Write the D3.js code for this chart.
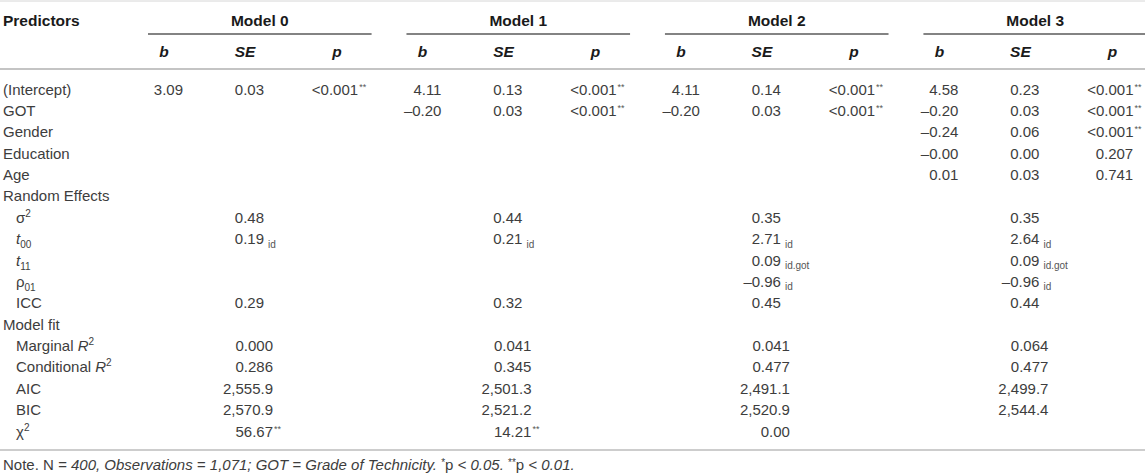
<!DOCTYPE html>
<html>
<head>
<meta charset="utf-8">
<script src="https://cdn.jsdelivr.net/npm/d3@7"></script>
<style>
  body { margin: 0; background: #fff; }
  svg { display: block; font-family: "Liberation Sans", Arial, Helvetica, sans-serif; }
  .cell { font-size: 15px; fill: #3d3d3d; }
  .head { font-size: 15.5px; font-weight: bold; fill: #1a1a1a; }
  .sub { font-size: 10px; fill: #555; }
  .star { font-size: 9px; fill: #555; }
</style>
</head>
<body>
<script>
// table content
var models = ['Model 0', 'Model 1', 'Model 2', 'Model 3'];
var subCols = ['b', 'SE', 'p'];
var predictors = ['(Intercept)', 'GOT', 'Gender', 'Education', 'Age'];

var coefB = [
	['3.09', '', '', '', ''],
	['4.11', '–0.20', '', '', ''],
	['4.11', '–0.20', '', '', ''],
	['4.58', '–0.20', '–0.24', '–0.00', '0.01']];
var coefSE = [
	['0.03', '', '', '', ''],
	['0.13', '0.03', '', '', ''],
	['0.14', '0.03', '', '', ''],
	['0.23', '0.03', '0.06', '0.00', '0.03']];
var coefP = [
	['<0.001**', '', '', '', ''],
	['<0.001**', '<0.001**', '', '', ''],
	['<0.001**', '<0.001**', '', '', ''],
	['<0.001**', '<0.001**', '<0.001**', '0.207', '0.741']];

// random effects
var sigma2 = ['0.48', '0.44', '0.35', '0.35'];
var tau00 = ['0.19', '0.21', '2.71', '2.64'];
var tau00Group = ['id', 'id', 'id', 'id'];
var tau11 = ['', '', '0.09', '0.09'];
var tau11Group = ['', '', 'id.got', 'id.got'];
var rho01 = ['', '', '–0.96', '–0.96'];
var rho01Group = ['', '', 'id', 'id'];
var icc = ['0.29', '0.32', '0.45', '0.44'];

// model fit
var marginalR2 = ['0.000', '0.041', '0.041', '0.064'];
var conditionalR2 = ['0.286', '0.345', '0.477', '0.477'];
var aic = ['2,555.9', '2,501.3', '2,491.1', '2,499.7'];
var bic = ['2,570.9', '2,521.2', '2,520.9', '2,544.4'];
var chi2 = ['56.67**', '14.21**', '0.00', ''];

var rowLabels = ['(Intercept)', 'GOT', 'Gender', 'Education', 'Age',
	'Random Effects', 'σ^{2}', '*t*_{00}', '*t*_{11}', 'ρ_{01}', 'ICC',
	'Model fit', 'Marginal *R*^{2}', 'Conditional *R*^{2}', 'AIC', 'BIC', 'χ^{2}'];
var sections = ['Random Effects', 'Model fit'];

var W = 1145, H = 476;

var svg = d3.select('body').append('svg')
	.attr('width', W)
	.attr('height', H);

var x = d3.scaleBand().domain(models).range([148, 1147]).paddingInner(0.135);
var bw = x.bandwidth();
var y = d3.scalePoint().domain(rowLabels).range([89, 431]);

// offsets inside one model block
var headX = d3.scaleOrdinal().domain(subCols).range([16, 97, 189]);
var valX = d3.scaleOrdinal().domain(subCols).range([35, 116, 191]);
var valAnchor = d3.scaleOrdinal().domain(subCols).range(['end', 'end', 'middle']);
var fitShift = 9;

// small markup: *x* italic, ^{..} superscript, _{..} subscript
function rich(text, markup, small) {
	var re = /\*([^*]+)\*|\^\{([^}]+)\}|_\{([^}]+)\}|([^*^_]+)/g;
	var m, shift = 0;
	while ((m = re.exec(markup))) {
		var t = text.append('tspan'), target = 0;
		if (m[1]) t.attr('font-style', 'italic').text(m[1]);
		else if (m[2]) { target = -6; t.attr('font-size', small).text(m[2]); }
		else if (m[3]) { target = 4; t.attr('font-size', small).text(m[3]); }
		else t.text(m[4]);
		if (target !== shift) t.attr('dy', target - shift);
		shift = target;
	}
}

// value with trailing stars drawn raised
function valueText(g, xp, yp, anchor, str) {
	var m = str.match(/^([^*]*)(\**)$/);
	var t = g.append('text').attr('class', 'cell')
		.attr('x', xp).attr('y', yp + 5.5)
		.attr('text-anchor', anchor)
		.text(m[1]);
	if (m[2]) {
		t.append('tspan').attr('class', 'star').attr('dx', 1).attr('dy', -5).text(m[2]);
	}
	return t;
}

// rules
svg.append('line').attr('x1', 0).attr('x2', W).attr('y1', 1).attr('y2', 1)
	.attr('stroke', '#d6d6d6').attr('stroke-width', 1);
svg.append('line').attr('x1', 0).attr('x2', W).attr('y1', 69).attr('y2', 69)
	.attr('stroke', '#c4c4c4').attr('stroke-width', 2);
svg.append('line').attr('x1', 0).attr('x2', W).attr('y1', 450).attr('y2', 450)
	.attr('stroke', '#bdbdbd').attr('stroke-width', 1.5);

// header
svg.append('text').attr('class', 'head')
	.attr('x', 3).attr('y', 25.5)
	.text('Predictors');

models.forEach(function(m) {
	svg.append('text').attr('class', 'head')
		.attr('x', x(m) + bw / 2).attr('y', 25.5)
		.attr('text-anchor', 'middle')
		.text(m);
	svg.append('line')
		.attr('x1', x(m)).attr('x2', x(m) + bw)
		.attr('y1', 34).attr('y2', 34)
		.attr('stroke', '#5a5a5a').attr('stroke-width', 1.5);
	subCols.forEach(function(c) {
		svg.append('text').attr('class', 'head')
			.attr('x', x(m) + headX(c)).attr('y', 56.5)
			.attr('text-anchor', 'middle')
			.attr('font-style', 'italic')
			.text(c);
	});
});

// row labels
rowLabels.forEach(function(lab, i) {
	var indent = i > 5 && sections.indexOf(lab) < 0 ? 16 : 3;
	var t = svg.append('text').attr('class', 'cell')
		.attr('x', indent).attr('y', y(lab) + 5.5);
	rich(t, lab, 10);
});

// coefficients
var coefSets = {b: coefB, SE: coefSE, p: coefP};
models.forEach(function(m, mi) {
	predictors.forEach(function(p, pi) {
		subCols.forEach(function(c) {
			var v = coefSets[c][mi][pi];
			if (!v) return;
			valueText(svg, x(m) + valX(c), y(p), valAnchor(c), v);
		});
	});
});

// random effects: number right-aligned in SE column, group as subscript
var reRows = [
	['σ^{2}', sigma2, null],
	['*t*_{00}', tau00, tau00Group],
	['*t*_{11}', tau11, tau11Group],
	['ρ_{01}', rho01, rho01Group],
	['ICC', icc, null]];
reRows.forEach(function(r) {
	models.forEach(function(m, mi) {
		var v = r[1][mi];
		if (!v) return;
		var xp = x(m) + valX('SE');
		valueText(svg, xp, y(r[0]), 'end', v);
		if (r[2] && r[2][mi]) {
			svg.append('text').attr('class', 'sub')
				.attr('x', xp + 4).attr('y', y(r[0]) + 9)
				.text(r[2][mi]);
		}
	});
});

// model fit
var fitRows = [
	['Marginal *R*^{2}', marginalR2],
	['Conditional *R*^{2}', conditionalR2],
	['AIC', aic],
	['BIC', bic],
	['χ^{2}', chi2]];
fitRows.forEach(function(r) {
	models.forEach(function(m, mi) {
		var v = r[1][mi];
		if (!v) return;
		var xp = x(m) + valX('SE') + fitShift;
		var parts = v.match(/^([^*]*)(\**)$/);
		valueText(svg, xp, y(r[0]), 'end', parts[1]);
		if (parts[2]) {
			svg.append('text').attr('class', 'star')
				.attr('x', xp + 1).attr('y', y(r[0]) + 0.5)
				.text(parts[2]);
		}
	});
});

// note
var note = svg.append('text').attr('class', 'cell')
	.attr('x', 3).attr('y', 470)
	.attr('font-size', 14.5);
note.append('tspan').text('Note. N ');
note.append('tspan').attr('font-style', 'italic').text('= 400, Observations = 1,071; GOT = Grade of Technicity. ');
note.append('tspan').attr('font-size', 10).attr('dy', -4).text('*');
note.append('tspan').attr('dy', 4).text('p ');
note.append('tspan').attr('font-style', 'italic').text('< 0.05. ');
note.append('tspan').attr('font-size', 10).attr('dy', -4).text('**');
note.append('tspan').attr('dy', 4).text('p ');
note.append('tspan').attr('font-style', 'italic').text('< 0.01.');
</script>
</body>
</html>
